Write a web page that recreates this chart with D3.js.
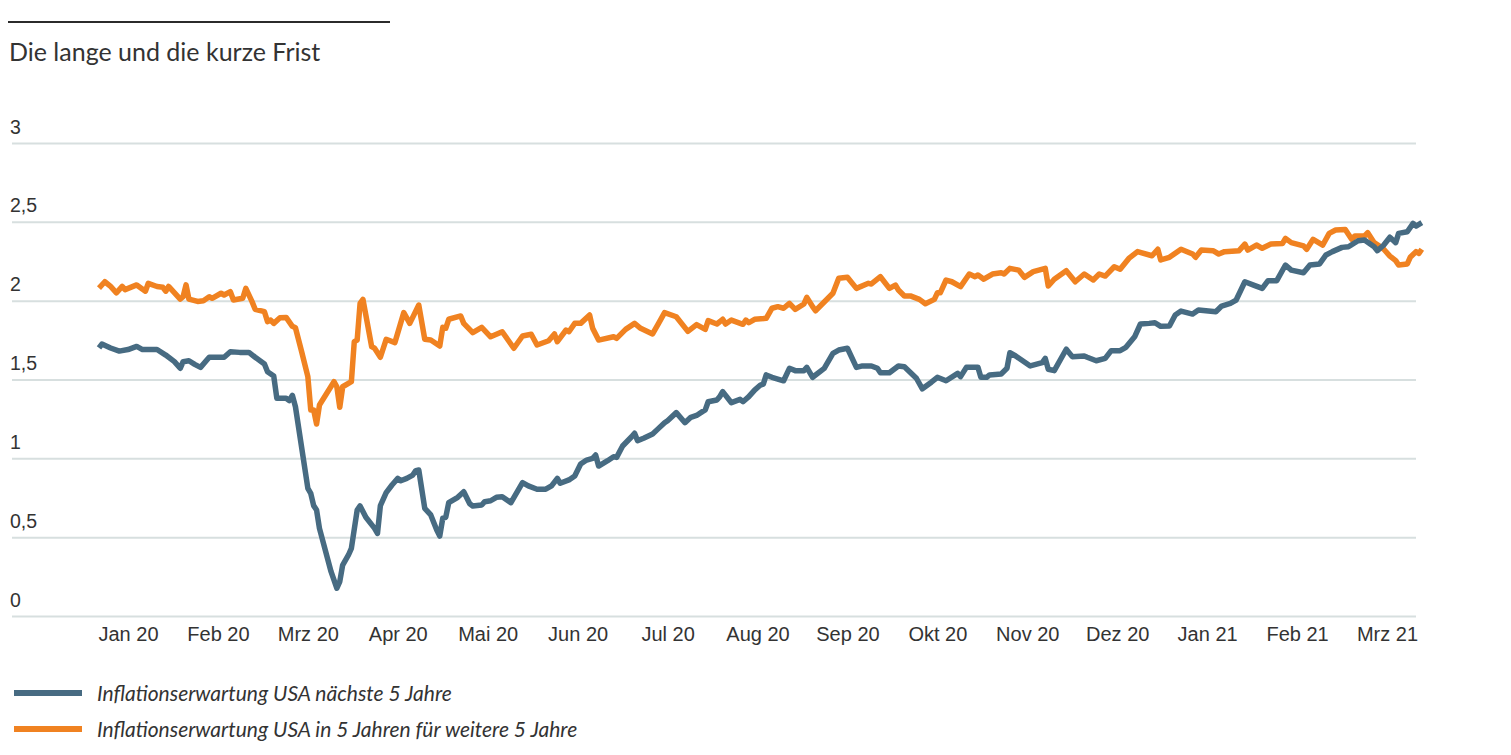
<!DOCTYPE html>
<html><head><meta charset="utf-8">
<script src="https://cdn.jsdelivr.net/npm/d3@7/dist/d3.min.js"></script>
<style>body{margin:0;background:#fff;}svg{display:block;font-family:Lato,"Open Sans",sans-serif;}</style>
</head><body><svg id="c" width="1511" height="755"></svg>
<script>
const title = "Die lange und die kurze Frist";
const seriesNames = ["Inflationserwartung USA nächste 5 Jahre", "Inflationserwartung USA in 5 Jahren für weitere 5 Jahre"];
const seriesColors = ["#476b82", "#f08221"];
const yTicks = [0, 0.5, 1, 1.5, 2, 2.5, 3];
const monthTicks = ["2020-01-01","2020-02-01","2020-03-01","2020-04-01","2020-05-01","2020-06-01","2020-07-01","2020-08-01","2020-09-01","2020-10-01","2020-11-01","2020-12-01","2021-01-01","2021-02-01","2021-03-01"];
const tickLabels = ["Jan 20","Feb 20","Mrz 20","Apr 20","Mai 20","Jun 20","Jul 20","Aug 20","Sep 20","Okt 20","Nov 20","Dez 20","Jan 21","Feb 21","Mrz 21"];

// Series 1: Inflationserwartung USA nächste 5 Jahre
const shortDates = ["2019-12-22","2019-12-23","2019-12-26","2019-12-29","2020-01-01","2020-01-04","2020-01-06","2020-01-08","2020-01-11","2020-01-14","2020-01-17","2020-01-19","2020-01-20","2020-01-22","2020-01-24","2020-01-26","2020-01-29","2020-01-31","2020-02-03","2020-02-05","2020-02-08","2020-02-11","2020-02-13","2020-02-16","2020-02-17","2020-02-19","2020-02-20","2020-02-23","2020-02-24","2020-02-25","2020-02-26","2020-03-01","2020-03-02","2020-03-03","2020-03-04","2020-03-05","2020-03-09","2020-03-11","2020-03-12","2020-03-13","2020-03-15","2020-03-16","2020-03-18","2020-03-19","2020-03-21","2020-03-24","2020-03-25","2020-03-26","2020-03-28","2020-03-30","2020-04-01","2020-04-02","2020-04-04","2020-04-06","2020-04-07","2020-04-08","2020-04-10","2020-04-12","2020-04-14","2020-04-15","2020-04-16","2020-04-17","2020-04-18","2020-04-21","2020-04-23","2020-04-25","2020-04-26","2020-04-29","2020-04-30","2020-05-02","2020-05-04","2020-05-06","2020-05-09","2020-05-13","2020-05-15","2020-05-18","2020-05-21","2020-05-23","2020-05-25","2020-05-26","2020-05-29","2020-05-31","2020-06-02","2020-06-04","2020-06-06","2020-06-07","2020-06-08","2020-06-11","2020-06-13","2020-06-14","2020-06-16","2020-06-19","2020-06-20","2020-06-21","2020-06-23","2020-06-26","2020-06-28","2020-06-30","2020-07-01","2020-07-04","2020-07-07","2020-07-09","2020-07-11","2020-07-13","2020-07-14","2020-07-15","2020-07-18","2020-07-19","2020-07-20","2020-07-23","2020-07-26","2020-07-27","2020-07-29","2020-07-31","2020-08-02","2020-08-03","2020-08-04","2020-08-06","2020-08-10","2020-08-12","2020-08-14","2020-08-17","2020-08-18","2020-08-20","2020-08-24","2020-08-27","2020-08-29","2020-09-01","2020-09-04","2020-09-06","2020-09-09","2020-09-11","2020-09-12","2020-09-15","2020-09-18","2020-09-20","2020-09-24","2020-09-26","2020-09-29","2020-10-01","2020-10-04","2020-10-08","2020-10-09","2020-10-11","2020-10-15","2020-10-16","2020-10-18","2020-10-19","2020-10-23","2020-10-25","2020-10-26","2020-10-28","2020-11-02","2020-11-06","2020-11-07","2020-11-08","2020-11-10","2020-11-14","2020-11-16","2020-11-20","2020-11-21","2020-11-24","2020-11-27","2020-11-29","2020-12-02","2020-12-04","2020-12-07","2020-12-09","2020-12-12","2020-12-14","2020-12-16","2020-12-19","2020-12-21","2020-12-23","2020-12-27","2020-12-29","2021-01-04","2021-01-06","2021-01-09","2021-01-11","2021-01-14","2021-01-17","2021-01-20","2021-01-22","2021-01-25","2021-01-28","2021-01-30","2021-02-03","2021-02-05","2021-02-08","2021-02-10","2021-02-12","2021-02-15","2021-02-17","2021-02-20","2021-02-22","2021-02-25","2021-02-26","2021-02-28","2021-03-02","2021-03-04","2021-03-05","2021-03-08","2021-03-10","2021-03-11","2021-03-13"];
const shortValues = [1.70,1.725,1.70,1.68,1.69,1.71,1.69,1.69,1.69,1.655,1.613,1.571,1.613,1.619,1.596,1.577,1.641,1.641,1.641,1.676,1.672,1.672,1.641,1.598,1.549,1.522,1.381,1.381,1.366,1.40,1.327,0.81,0.778,0.70,0.672,0.556,0.281,0.176,0.218,0.323,0.387,0.429,0.672,0.698,0.626,0.556,0.524,0.70,0.782,0.831,0.873,0.858,0.873,0.894,0.922,0.926,0.683,0.641,0.545,0.507,0.62,0.626,0.719,0.753,0.788,0.712,0.698,0.704,0.725,0.731,0.753,0.757,0.719,0.846,0.825,0.804,0.804,0.825,0.873,0.842,0.863,0.888,0.964,0.989,1.0,1.021,0.951,0.985,1.01,1.006,1.078,1.137,1.159,1.112,1.127,1.154,1.19,1.226,1.239,1.29,1.226,1.26,1.272,1.296,1.307,1.359,1.37,1.391,1.423,1.353,1.374,1.359,1.391,1.433,1.465,1.471,1.529,1.514,1.492,1.571,1.556,1.556,1.577,1.514,1.571,1.666,1.687,1.698,1.577,1.586,1.586,1.571,1.543,1.543,1.586,1.581,1.508,1.441,1.483,1.514,1.492,1.539,1.518,1.577,1.577,1.514,1.514,1.529,1.535,1.571,1.67,1.649,1.586,1.607,1.634,1.565,1.556,1.692,1.645,1.649,1.641,1.619,1.634,1.683,1.683,1.704,1.771,1.852,1.856,1.86,1.837,1.839,1.909,1.934,1.915,1.941,1.93,1.966,1.983,2.004,2.12,2.099,2.078,2.127,2.127,2.226,2.194,2.177,2.226,2.233,2.29,2.311,2.338,2.342,2.38,2.385,2.342,2.317,2.353,2.402,2.368,2.427,2.437,2.49,2.473,2.495];

// Series 2: Inflationserwartung USA in 5 Jahren für weitere 5 Jahre
const longDates = ["2019-12-22","2019-12-24","2019-12-26","2019-12-28","2019-12-30","2019-12-31","2020-01-04","2020-01-07","2020-01-08","2020-01-11","2020-01-13","2020-01-14","2020-01-15","2020-01-19","2020-01-20","2020-01-21","2020-01-22","2020-01-25","2020-01-27","2020-01-29","2020-01-30","2020-02-02","2020-02-03","2020-02-05","2020-02-06","2020-02-09","2020-02-10","2020-02-12","2020-02-13","2020-02-16","2020-02-17","2020-02-18","2020-02-19","2020-02-21","2020-02-23","2020-02-25","2020-02-26","2020-02-28","2020-03-01","2020-03-02","2020-03-03","2020-03-04","2020-03-05","2020-03-10","2020-03-11","2020-03-12","2020-03-13","2020-03-16","2020-03-17","2020-03-18","2020-03-19","2020-03-20","2020-03-23","2020-03-24","2020-03-26","2020-03-28","2020-03-31","2020-04-03","2020-04-05","2020-04-08","2020-04-10","2020-04-12","2020-04-15","2020-04-16","2020-04-17","2020-04-18","2020-04-22","2020-04-23","2020-04-26","2020-04-29","2020-05-02","2020-05-06","2020-05-10","2020-05-13","2020-05-16","2020-05-18","2020-05-22","2020-05-24","2020-05-25","2020-05-28","2020-05-29","2020-05-31","2020-06-02","2020-06-05","2020-06-06","2020-06-08","2020-06-13","2020-06-14","2020-06-17","2020-06-20","2020-06-22","2020-06-26","2020-06-28","2020-06-30","2020-07-04","2020-07-08","2020-07-11","2020-07-14","2020-07-15","2020-07-18","2020-07-20","2020-07-21","2020-07-23","2020-07-27","2020-07-28","2020-07-29","2020-07-31","2020-08-04","2020-08-06","2020-08-08","2020-08-10","2020-08-12","2020-08-14","2020-08-17","2020-08-18","2020-08-20","2020-08-21","2020-08-27","2020-08-29","2020-09-01","2020-09-04","2020-09-08","2020-09-09","2020-09-12","2020-09-15","2020-09-17","2020-09-18","2020-09-20","2020-09-22","2020-09-25","2020-09-27","2020-09-30","2020-10-01","2020-10-02","2020-10-04","2020-10-06","2020-10-09","2020-10-12","2020-10-14","2020-10-15","2020-10-17","2020-10-20","2020-10-23","2020-10-24","2020-10-26","2020-10-29","2020-10-31","2020-11-03","2020-11-07","2020-11-08","2020-11-10","2020-11-14","2020-11-17","2020-11-20","2020-11-21","2020-11-23","2020-11-25","2020-11-27","2020-11-30","2020-12-02","2020-12-05","2020-12-08","2020-12-13","2020-12-15","2020-12-16","2020-12-19","2020-12-23","2020-12-27","2020-12-28","2020-12-30","2021-01-03","2021-01-05","2021-01-07","2021-01-12","2021-01-14","2021-01-15","2021-01-18","2021-01-20","2021-01-23","2021-01-27","2021-01-28","2021-01-30","2021-02-03","2021-02-04","2021-02-06","2021-02-09","2021-02-11","2021-02-13","2021-02-16","2021-02-18","2021-02-19","2021-02-22","2021-02-23","2021-02-25","2021-02-27","2021-02-28","2021-03-02","2021-03-04","2021-03-05","2021-03-08","2021-03-09","2021-03-11","2021-03-12","2021-03-13"];
const longValues = [2.08,2.12,2.09,2.05,2.09,2.07,2.10,2.06,2.11,2.09,2.085,2.06,2.09,2.01,2.025,2.10,2.01,1.995,2.0,2.025,2.015,2.047,2.036,2.057,2.004,2.015,2.078,1.994,1.945,1.93,1.867,1.877,1.856,1.892,1.894,1.837,1.828,1.676,1.518,1.307,1.307,1.218,1.338,1.486,1.454,1.324,1.454,1.486,1.74,1.75,1.983,2.008,1.708,1.698,1.641,1.755,1.734,1.924,1.856,1.972,1.755,1.75,1.712,1.831,1.825,1.882,1.903,1.856,1.797,1.831,1.771,1.803,1.698,1.776,1.787,1.719,1.746,1.789,1.74,1.814,1.803,1.856,1.856,1.909,1.825,1.75,1.771,1.761,1.818,1.856,1.825,1.789,1.856,1.924,1.898,1.805,1.848,1.818,1.873,1.852,1.882,1.852,1.877,1.85,1.877,1.86,1.882,1.888,1.952,1.962,1.952,1.983,1.945,1.979,2.021,1.962,1.936,2.047,2.142,2.148,2.078,2.11,2.106,2.152,2.078,2.099,2.068,2.03,2.03,2.008,1.98,2.008,2.05,2.05,2.131,2.12,2.089,2.169,2.152,2.163,2.136,2.169,2.177,2.169,2.205,2.194,2.148,2.184,2.205,2.093,2.136,2.19,2.12,2.169,2.156,2.131,2.169,2.156,2.215,2.199,2.268,2.311,2.285,2.326,2.258,2.275,2.326,2.296,2.275,2.321,2.317,2.296,2.311,2.317,2.359,2.321,2.353,2.332,2.359,2.363,2.395,2.368,2.347,2.326,2.389,2.353,2.427,2.448,2.452,2.389,2.41,2.41,2.431,2.368,2.342,2.326,2.283,2.254,2.226,2.233,2.275,2.311,2.30,2.326];

const parse = d3.timeParse("%Y-%m-%d");
const svg = d3.select("#c");

// layout
const gridX0 = 12, gridX1 = 1416;
const firstTickX = 128, lastTickX = 1387;
const monthW = (lastTickX - firstTickX) / (monthTicks.length - 1);

// polylinear time scale: equal width per month
const monthDomain = [parse("2019-12-01"), ...monthTicks.map(parse), parse("2021-04-01")];
const monthRange = monthDomain.map((d, i) => firstTickX + (i - 1) * monthW);
const x = d3.scaleTime().domain(monthDomain).range(monthRange);
const y = d3.scaleLinear().domain([0, 3]).range([616, 143]);

const deLocale = d3.formatLocale({decimal: ",", thousands: ".", grouping: [3], currency: ["", " €"]});
const fmt = deLocale.format("~g");

// title rule + title
svg.append("line").attr("x1", 8).attr("x2", 390).attr("y1", 22).attr("y2", 22)
  .attr("stroke", "#2b2b2b").attr("stroke-width", 2);
svg.append("text").attr("x", 9).attr("y", 61).text(title)
  .attr("font-size", 25).attr("fill", "#333");

// grid + y labels
const yAxis = d3.axisLeft(y).tickValues(yTicks).tickSize(0).tickFormat(fmt);
const gy = svg.append("g").call(yAxis);
gy.select(".domain").remove();
gy.selectAll(".tick text").attr("x", 10).attr("y", -10).attr("dy", 0)
  .attr("text-anchor", "start").attr("font-family", null)
  .attr("font-size", 19.5).attr("fill", "#333");
gy.selectAll(".tick").append("line")
  .attr("x1", gridX0).attr("x2", gridX1)
  .attr("stroke", "#d7dfdf").attr("stroke-width", 2);

// x axis labels
const xAxis = d3.axisBottom(x).tickValues(monthTicks.map(parse))
  .tickSize(0).tickFormat((d, i) => tickLabels[i]);
const gx = svg.append("g").attr("transform", `translate(0,${y(0)})`).call(xAxis);
gx.select(".domain").remove();
gx.selectAll(".tick text").attr("y", 25).attr("dy", 0)
  .attr("font-family", null).attr("font-size", 20).attr("fill", "#333");

// lines
const line = d3.line().x(d => x(d.date)).y(d => y(d.value));
const series = [
  shortDates.map((d, i) => ({date: parse(d), value: shortValues[i]})),
  longDates.map((d, i) => ({date: parse(d), value: longValues[i]}))
];
[1, 0].forEach(k => {
  svg.append("path").datum(series[k]).attr("d", line)
    .attr("fill", "none").attr("stroke", seriesColors[k])
    .attr("stroke-width", 5.5).attr("stroke-linejoin", "round").attr("stroke-linecap", "butt");
});

// legend
seriesNames.forEach((name, i) => {
  const ly = 693 + i * 36;
  svg.append("line").attr("x1", 14).attr("x2", 82).attr("y1", ly).attr("y2", ly)
    .attr("stroke", seriesColors[i]).attr("stroke-width", 6);
  svg.append("text").attr("x", 97).attr("y", ly + 8).text(name)
    .attr("font-size", 21).attr("font-style", "italic").attr("fill", "#333");
});
</script>
</body></html>
